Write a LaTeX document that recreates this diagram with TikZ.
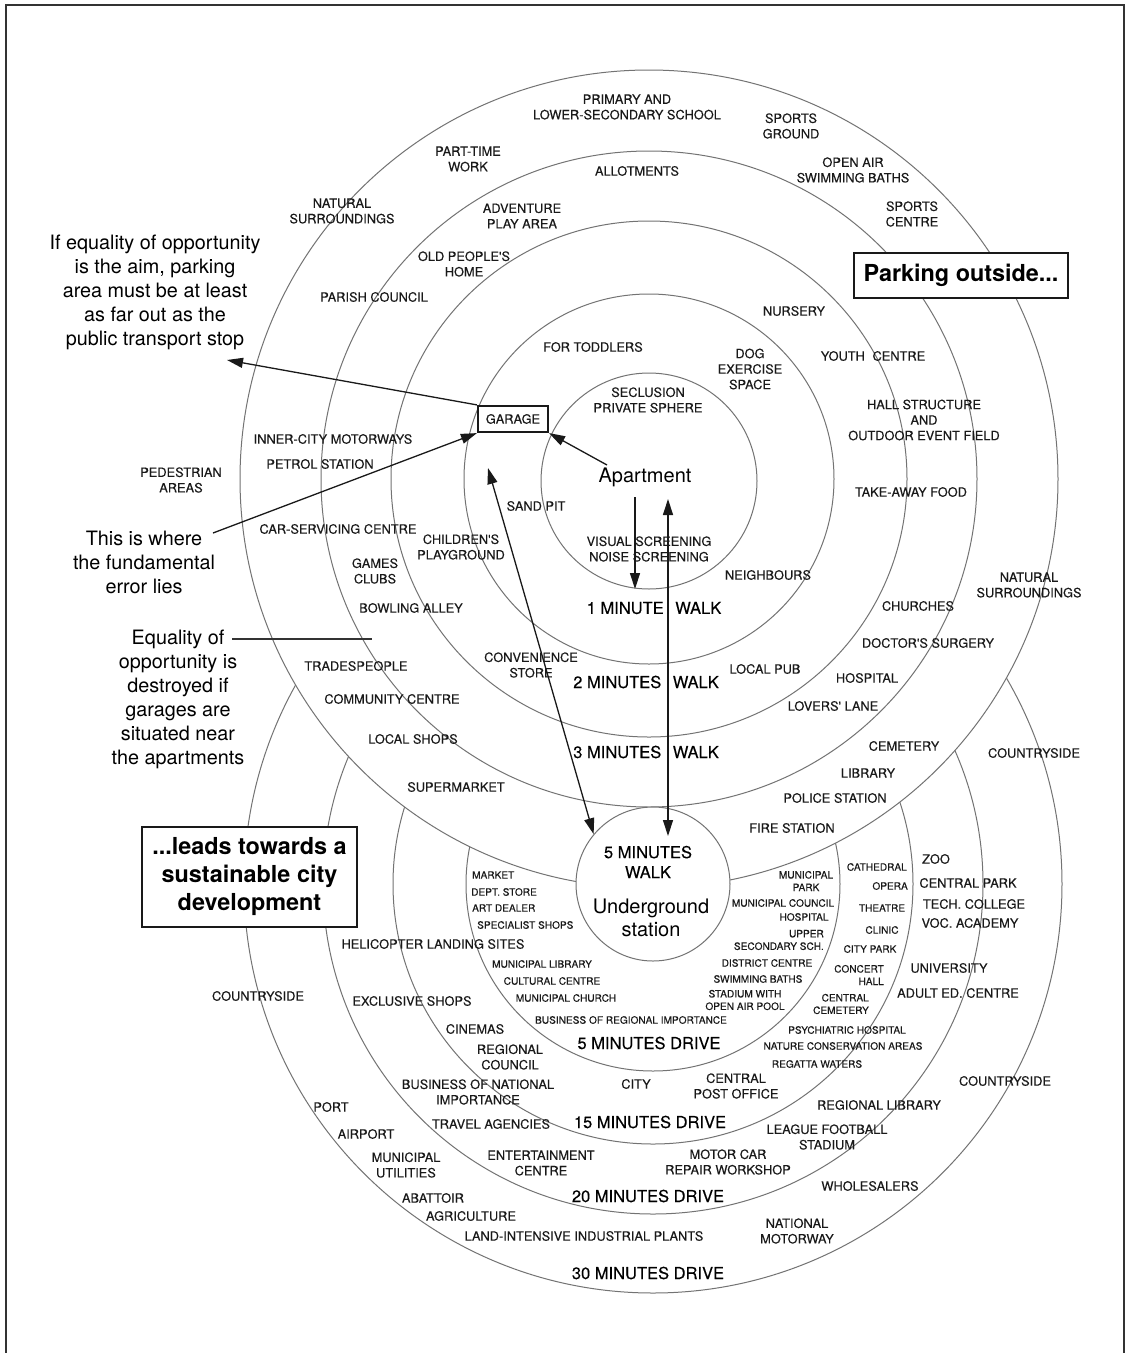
\documentclass[tikz,border=0pt]{standalone}
\usepackage{fontspec}
\setmainfont{TeX Gyre Heros}
\newfontfamily\labfont[FakeBold=0.25]{TeX Gyre Heros}
\usetikzlibrary{arrows.meta}
\begin{document}
\begin{tikzpicture}[x=1pt,y=-1pt,
  ringline/.style={draw=black!55, line width=1pt},
  lab/.style={font=\labfont\fontsize{12.8}{15.5}\selectfont, text=black!90, align=center, inner sep=0pt},
  slab/.style={font=\labfont\fontsize{10.1}{12.5}\selectfont, text=black!90, align=center, inner sep=0pt},
  biglab/.style={font=\labfont\fontsize{16.5}{20}\selectfont, text=black, align=center, inner sep=0pt},
  largelab/.style={font=\fontsize{20}{23}\selectfont, text=black, align=center, inner sep=0pt},
  ann/.style={font=\fontsize{19.8}{24}\selectfont, text=black, align=center, inner sep=0pt},
  bbox/.style={draw=black!90, line width=2.2pt, fill=white, font=\bfseries\fontsize{23.4}{28}\selectfont, align=center, inner sep=0pt},
  arr/.style={line width=1.3pt, draw=black!90, -{Triangle[length=16pt,width=10pt]}},
  darr/.style={line width=1.3pt, draw=black!90, {Triangle[length=16pt,width=10pt]}-{Triangle[length=16pt,width=10pt]}}
]
\useasboundingbox (0,0) rectangle (1131,1353);
\fill[white] (0,0) rectangle (1131,1353);
% frame
\draw[line width=2pt, black!80] (6,1353) -- (6,5) -- (1124,5) -- (1124,1353);

% lower rings (drive)
\draw[ringline] (653,884) circle[radius=409pt];
\draw[ringline] (653,884) circle[radius=330pt];
\draw[ringline] (653,884) circle[radius=260pt];
\draw[ringline] (653,884) circle[radius=187pt];

% upper rings (walk)
\draw[ringline, fill=white] (649,479) circle[radius=409pt];
\draw[ringline] (649,479) circle[radius=328pt];
\draw[ringline] (649,479) circle[radius=258pt];
\draw[ringline] (649,479) circle[radius=185pt];
\draw[ringline] (649,481) circle[radius=108pt];

% station
\node[circle, draw=black!55, line width=1pt, fill=white, minimum size=154pt, inner sep=0pt] (station) at (653,884) {};

% upper labels
\node[lab] (tPrim) at (627,107) {PRIMARY AND\\LOWER-SECONDARY SCHOOL};
\node[lab] (tSpG) at (791,126) {SPORTS\\GROUND};
\node[lab] (tPart) at (468,159) {PART-TIME\\WORK};
\node[lab] (tAllot) at (637,171) {ALLOTMENTS};
\node[lab] (tOpen) at (853,170) {OPEN AIR\\SWIMMING BATHS};
\node[lab] (tNat1) at (342,211) {NATURAL\\SURROUNDINGS};
\node[lab] (tAdv) at (522,216) {ADVENTURE\\PLAY AREA};
\node[lab] (tSpC) at (912,214) {SPORTS\\CENTRE};
\node[lab] (tOld) at (464,264) {OLD PEOPLE'S\\HOME};
\node[lab] (tPar) at (374,297) {PARISH COUNCIL};
\node[lab] (tNur) at (794,311) {NURSERY};
\node[lab] (tTod) at (593,347) {FOR TODDLERS};
\node[lab] (tDog) at (750,369) {DOG\\EXERCISE\\SPACE};
\node[lab] (tYouth) at (873,356) {YOUTH\hspace{0.6em}CENTRE};
\node[lab] (tSecl) at (648,400) {SECLUSION\\PRIVATE SPHERE};
\node[lab] (tHall) at (924,420) {HALL STRUCTURE\\AND\\OUTDOOR EVENT FIELD};
\node[lab] (tInner) at (333,439) {INNER-CITY MOTORWAYS};
\node[lab] (tPetrol) at (320,464) {PETROL STATION};
\node[lab] (tPed) at (181,480) {PEDESTRIAN\\AREAS};
\node[lab] (tTake) at (911,492) {TAKE-AWAY FOOD};
\node[lab] (tSand) at (536,506) {SAND PIT};
\node[lab] (tCar) at (338,529) {CAR-SERVICING CENTRE};
\node[lab] (tChild) at (461,547) {CHILDREN'S\\PLAYGROUND};
\node[lab] (tVis) at (649,549) {VISUAL SCREENING\\NOISE SCREENING};
\node[lab] (tGames) at (375,571) {GAMES\\CLUBS};
\node[lab] (tNeigh) at (768,575) {NEIGHBOURS};
\node[lab] (tNat2) at (1029,585) {NATURAL\\SURROUNDINGS};
\node[lab] (tBowl) at (411,608) {BOWLING ALLEY};
\node[lab] (tChurch) at (918,606) {CHURCHES};
\node[lab] (tDoc) at (928,643) {DOCTOR'S SURGERY};
\node[lab] (tConv) at (531,665) {CONVENIENCE\\STORE};
\node[lab] (tTrade) at (356,666) {TRADESPEOPLE};
\node[lab] (tPub) at (765,669) {LOCAL PUB};
\node[lab] (tHosp) at (867,678) {HOSPITAL};
\node[lab] (tComm) at (392,699) {COMMUNITY CENTRE};
\node[lab] (tLovers) at (833,706) {LOVERS' LANE};
\node[lab] (tShops) at (413,739) {LOCAL SHOPS};
\node[lab] (tCem) at (904,746) {CEMETERY};
\node[lab] (tCountry1) at (1034,753) {COUNTRYSIDE};
\node[lab] (tLib) at (868,773) {LIBRARY};
\node[lab] (tSuper) at (456,787) {SUPERMARKET};
\node[lab] (tPolice) at (835,798) {POLICE STATION};
\node[lab] (tFire) at (792,828) {FIRE STATION};

% walk labels
\node[biglab] (w1) at (654,608) {1 MINUTE\hspace{0.7em}WALK};
\node[biglab] (w2) at (646,682) {2 MINUTES\hspace{0.7em}WALK};
\node[biglab] (w3) at (646,752) {3 MINUTES\hspace{0.7em}WALK};
\node[largelab] (apt) at (645,477) {Apartment};
\node[biglab] (w5) at (648,862) {5 MINUTES\\WALK};
\node[largelab] (ug) at (651,918) {Underground\\station};

% drive labels
\node[biglab] (d5) at (649,1043) {5 MINUTES DRIVE};
\node[biglab] (d15) at (650,1122) {15 MINUTES DRIVE};
\node[biglab] (d20) at (648,1196) {20 MINUTES DRIVE};
\node[biglab] (d30) at (648,1273) {30 MINUTES DRIVE};

% inner ring of drive area
\node[slab,anchor=west] (bMarket) at (472,875) {MARKET};
\node[slab,anchor=west] (bDept) at (471,892) {DEPT. STORE};
\node[slab,anchor=west] (bArt) at (472,908) {ART DEALER};
\node[slab,anchor=west] (bSpec) at (477,925) {SPECIALIST SHOPS};
\node[slab] (bMLib) at (542,964) {MUNICIPAL LIBRARY};
\node[slab] (bCult) at (552,981) {CULTURAL CENTRE};
\node[slab] (bMChurch) at (566,998) {MUNICIPAL CHURCH};
\node[slab] (bBusReg) at (631,1020) {BUSINESS OF REGIONAL IMPORTANCE};
\node[slab] (bMPark) at (806,881) {MUNICIPAL\\PARK};
\node[slab] (bMCouncil) at (783,903) {MUNICIPAL COUNCIL};
\node[slab] (bHosp) at (804,917) {HOSPITAL};
\node[slab,align=right,anchor=east] (bUpper) at (824,940) {UPPER\\SECONDARY SCH.};
\node[slab] (bDistrict) at (767,963) {DISTRICT CENTRE};
\node[slab] (bSwim) at (758,979) {SWIMMING BATHS};
\node[slab] (bStadium) at (745,1000) {STADIUM WITH\\OPEN AIR POOL};

% second ring
\node[slab,anchor=east] (cCath) at (907,867) {CATHEDRAL};
\node[slab,anchor=east] (cOpera) at (908,886) {OPERA};
\node[slab] (cTheatre) at (882,908) {THEATRE};
\node[slab] (cClinic) at (882,930) {CLINIC};
\node[slab] (cCityPark) at (870,949) {CITY PARK};
\node[slab,align=right,anchor=east] (cConcert) at (884,975) {CONCERT\\HALL};
\node[slab,align=right,anchor=east] (cCentCem) at (869,1004) {CENTRAL\\CEMETERY};
\node[slab] (cPsych) at (847,1030) {PSYCHIATRIC HOSPITAL};
\node[slab] (cNature) at (843,1046) {NATURE CONSERVATION AREAS};
\node[slab] (cRegatta) at (817,1064) {REGATTA WATERS};
\node[lab] (cPost) at (736,1086) {CENTRAL\\POST OFFICE};
\node[lab] (cCity) at (636,1084) {CITY};
\node[lab] (cRegC) at (510,1057) {REGIONAL\\COUNCIL};
\node[lab] (cCin) at (475,1029) {CINEMAS};
\node[lab] (cExcl) at (412,1001) {EXCLUSIVE SHOPS};
\node[lab] (cHeli) at (433,944) {HELICOPTER LANDING SITES};
\node[lab] (cBusNat) at (478,1092) {BUSINESS OF NATIONAL\\IMPORTANCE};
\node[lab] (cTravel) at (491,1124) {TRAVEL AGENCIES};

% outer rings
\node[lab] (cZoo) at (936,859) {ZOO};
\node[lab] (cCPark) at (968,883) {CENTRAL PARK};
\node[lab] (cTech) at (974,904) {TECH. COLLEGE};
\node[lab] (cVoc) at (970,923) {VOC. ACADEMY};
\node[lab] (cUni) at (949,968) {UNIVERSITY};
\node[lab] (cAdult) at (958,993) {ADULT ED. CENTRE};
\node[lab] (cRegLib) at (879,1105) {REGIONAL LIBRARY};
\node[lab] (cLeague) at (827,1137) {LEAGUE FOOTBALL\\STADIUM};
\node[lab] (cMotor) at (728,1162) {MOTOR CAR\\REPAIR WORKSHOP};
\node[lab] (cEnt) at (541,1163) {ENTERTAINMENT\\CENTRE};
\node[lab] (cWhole) at (870,1186) {WHOLESALERS};
\node[lab] (cNatMot) at (797,1231) {NATIONAL\\MOTORWAY};
\node[lab] (cCountry2) at (258,996) {COUNTRYSIDE};
\node[lab] (cCountry3) at (1005,1081) {COUNTRYSIDE};
\node[lab] (cPort) at (331,1107) {PORT};
\node[lab] (cAir) at (366,1134) {AIRPORT};
\node[lab] (cUtil) at (406,1165) {MUNICIPAL\\UTILITIES};
\node[lab] (cAbat) at (433,1198) {ABATTOIR};
\node[lab] (cAgri) at (471,1216) {AGRICULTURE};
\node[lab] (cLand) at (584,1236) {LAND-INTENSIVE INDUSTRIAL PLANTS};

% annotations
\node[ann] (note1) at (155,292) {If equality of opportunity\\is the aim, parking\\area must be at least\\as far out as the\\public transport stop};
\node[ann] (note2) at (144,562) {This is where\\the fundamental\\error lies};
\node[ann] (note3) at (178,699) {Equality of\\opportunity is\\destroyed if\\garages are\\situated near\\the apartments};

% boxes
\node[bbox, minimum width=214pt, minimum height=45pt] (park) at (961,275.5) {Parking outside...};
\node[bbox, minimum width=215pt, minimum height=100pt] (leads) at (249.5,877) {...leads towards a\\sustainable city\\development};
\node[draw=black!90, line width=2.2pt, fill=white, minimum width=70pt, minimum height=26pt, inner sep=0pt, font=\labfont\fontsize{12.8}{15}\selectfont, text=black!90] (garage) at (513,419) {GARAGE};

% connector ends
\coordinate (tipA) at (227,360);
\coordinate (errS) at (213,533);
\coordinate (aptS) at (607,465);
\coordinate (dnS) at (635,497);
\coordinate (dnE) at (635,589);
\coordinate (lTop) at (488,468);
\coordinate (rTop) at (668,499);
\coordinate (rBot) at (668,836);
\coordinate (eqA) at (232,639);
\coordinate (eqB) at (372,639);

% connectors
\draw[arr] (garage.north west) -- (tipA);
\draw[arr] (errS) -- (garage.south west);
\draw[arr] (aptS) -- (garage.south east);
\draw[arr] (dnS) -- (dnE);
\draw[darr] (lTop) -- (station.140);
\draw[darr] (rTop) -- (rBot);
\draw[line width=1.3pt, black!80] (eqA) -- (eqB);
\end{tikzpicture}
\end{document}
